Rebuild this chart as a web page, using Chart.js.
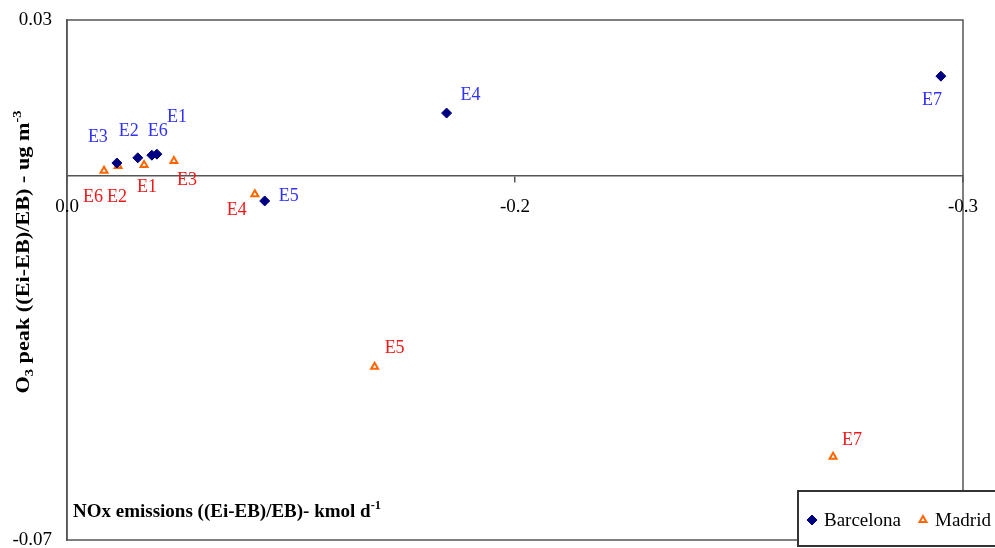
<!DOCTYPE html>
<html>
<head>
<meta charset="utf-8">
<script src="https://cdn.jsdelivr.net/npm/chart.js@4/dist/chart.umd.min.js"></script>
<style>
  html, body { margin: 0; padding: 0; background: #ffffff; }
  canvas { display: block; }
</style>
</head>
<body>
<canvas id="chart" width="995" height="548"></canvas>
<script>
// Emission scenarios E1..E7
const scenarios = ['E1', 'E2', 'E3', 'E4', 'E5', 'E6', 'E7'];

// Relative change in NOx emissions ((Ei-EB)/EB), kmol d-1
const barcelonaNOx = [-0.0301, -0.0237, -0.0167, -0.1271, -0.0662, -0.0284, -0.2926];
const madridNOx    = [-0.0258, -0.0171, -0.0358, -0.0629, -0.1030, -0.0124, -0.2565];

// Relative change in O3 peak ((Ei-EB)/EB), ug m-3
const barcelonaO3 = [0.0042, 0.0035, 0.0025, 0.0121, -0.0048, 0.0040, 0.0192];
const madridO3    = [0.0021, 0.0019, 0.0029, -0.0035, -0.0367, 0.0010, -0.0540];

// Axis ticks
const xTickValues = [0, -0.15, -0.3];
const xTickLabels = ['0.0', '-0.2', '-0.3'];
const yTickValues = [0.03, -0.07];
const yTickLabels = ['0.03', '-0.07'];

// Where each scenario name sits relative to its marker (px)
const barcelonaLabelShift = [[20, -37], [-9, -27], [-19, -26], [24, -18], [24, -5], [6, -24], [-9, 24]];
const madridLabelShift    = [[3, 22], [-1, 31], [13, 19], [-18, 16], [20, -19], [-11, 26], [19, -17]];

const SERIF = "'Liberation Serif', 'Times New Roman', serif";
const LINE = '#555555';

function toPoints(xs, ys) {
  return xs.map((x, i) => ({ x: x, y: ys[i] }));
}

// Draws a run of text pieces, some of them sub/superscript
function drawRich(ctx, parts, x, y, size, weight) {
  let cx = x;
  for (const p of parts) {
    const s = p.sub || p.sup ? size * 0.65 : size;
    ctx.font = weight + ' ' + s + 'px ' + SERIF;
    const dy = p.sub ? size * 0.22 : (p.sup ? -size * 0.42 : 0);
    ctx.fillText(p.t, cx, y + dy);
    cx += ctx.measureText(p.t).width;
  }
  return cx - x;
}
function richWidth(ctx, parts, size, weight) {
  let w = 0;
  for (const p of parts) {
    const s = p.sub || p.sup ? size * 0.65 : size;
    ctx.font = weight + ' ' + s + 'px ' + SERIF;
    w += ctx.measureText(p.t).width;
  }
  return w;
}

const yTitle = [{ t: 'O' }, { t: '3', sub: true }, { t: ' peak ((Ei-EB)/EB) - ug m' }, { t: '-3', sup: true }];
const xTitle = [{ t: 'NOx emissions ((Ei-EB)/EB)- kmol d' }, { t: '-1', sup: true }];

// Box around the plot area
const frame = {
  id: 'frame',
  beforeDatasetsDraw(chart) {
    const { ctx, chartArea: a } = chart;
    ctx.save();
    ctx.strokeStyle = LINE;
    ctx.lineWidth = 1.5;
    ctx.strokeRect(a.left, a.top, a.right - a.left, a.bottom - a.top);
    ctx.restore();
  }
};

// Scenario names next to each marker
const pointNames = {
  id: 'pointNames',
  afterDatasetsDraw(chart) {
    const ctx = chart.ctx;
    ctx.save();
    ctx.font = '18px ' + SERIF;
    ctx.textAlign = 'center';
    ctx.textBaseline = 'middle';
    chart.data.datasets.forEach((ds, di) => {
      const meta = chart.getDatasetMeta(di);
      ctx.fillStyle = ds.nameColor;
      meta.data.forEach((el, i) => {
        const sh = ds.nameShift[i];
        ctx.fillText(scenarios[i], el.x + sh[0], el.y + sh[1]);
      });
    });
    ctx.restore();
  }
};

// Axis titles
const axisTitles = {
  id: 'axisTitles',
  afterDraw(chart) {
    const { ctx, chartArea: a } = chart;
    ctx.save();
    ctx.fillStyle = '#000000';
    ctx.textBaseline = 'alphabetic';
    ctx.textAlign = 'left';
    drawRich(ctx, xTitle, a.left + 6, a.bottom - 23, 19, 'bold');

    // vertical title, slightly stretched along its length
    const w = richWidth(ctx, yTitle, 19, 'bold');
    const stretch = 283 / w;
    ctx.translate(29, 252);
    ctx.rotate(-Math.PI / 2);
    ctx.scale(stretch, 1);
    drawRich(ctx, yTitle, -w / 2, 0, 19, 'bold');
    ctx.restore();
  }
};

// Legend box in the lower right corner
const legendBox = {
  id: 'legendBox',
  afterDraw(chart) {
    const ctx = chart.ctx;
    const box = { x: 798, y: 491, w: 205, h: 55 };
    ctx.save();
    ctx.fillStyle = '#ffffff';
    ctx.fillRect(box.x, box.y, box.w, box.h);
    ctx.strokeStyle = '#333333';
    ctx.lineWidth = 2;
    ctx.strokeRect(box.x, box.y, box.w, box.h);
    const cy = 520;
    const spots = [{ mx: 812, tx: 824 }, { mx: 923, tx: 935 }];
    chart.data.datasets.forEach((ds, i) => {
      ctx.fillStyle = ds.backgroundColor;
      ctx.strokeStyle = ds.borderColor;
      ctx.lineWidth = ds.borderWidth;
      Chart.helpers.drawPoint(ctx, {
        pointStyle: ds.pointStyle, radius: ds.pointRadius, borderWidth: ds.borderWidth, rotation: 0
      }, spots[i].mx, cy);
      ctx.fillStyle = '#000000';
      ctx.font = '19px ' + SERIF;
      ctx.textAlign = 'left';
      ctx.textBaseline = 'middle';
      ctx.fillText(ds.label, spots[i].tx, cy + 1);
    });
    ctx.restore();
  }
};

new Chart(document.getElementById('chart').getContext('2d'), {
  type: 'scatter',
  data: {
    datasets: [
      {
        label: 'Barcelona',
        data: toPoints(barcelonaNOx, barcelonaO3),
        pointStyle: 'rectRot',
        pointRadius: 5,
        backgroundColor: '#000080',
        borderColor: '#000080',
        borderWidth: 1,
        nameColor: '#3030ff',
        nameShift: barcelonaLabelShift
      },
      {
        label: 'Madrid',
        data: toPoints(madridNOx, madridO3),
        pointStyle: 'triangle',
        pointRadius: 4,
        backgroundColor: '#ffffff',
        borderColor: '#ff6600',
        borderWidth: 2,
        nameColor: '#f01818',
        nameShift: madridLabelShift
      }
    ]
  },
  options: {
    responsive: false,
    animation: false,
    devicePixelRatio: 1,
    layout: { padding: { left: 0, top: 20, right: 32, bottom: 8 } },
    plugins: { legend: { display: false }, tooltip: { enabled: false } },
    scales: {
      x: {
        type: 'linear',
        reverse: true,
        min: -0.3,
        max: 0,
        position: { y: 0 },
        afterBuildTicks: s => { s.ticks = xTickValues.map(v => ({ value: v })); },
        afterFit: s => { s.height = 0; s.paddingLeft = 0; s.paddingRight = 0; },
        ticks: {
          callback: (v, i) => xTickLabels[i],
          font: { family: SERIF, size: 19 },
          color: '#000000',
          padding: 14,
          maxRotation: 0,
          autoSkip: false,
          z: 1
        },
        grid: { drawOnChartArea: false, drawTicks: true, tickLength: 6, color: LINE, lineWidth: 1.5 },
        border: { display: true, color: LINE, width: 1.5 }
      },
      y: {
        type: 'linear',
        min: -0.07,
        max: 0.03,
        afterBuildTicks: s => { s.ticks = yTickValues.map(v => ({ value: v })); },
        afterFit: s => { s.width = 67; s.paddingTop = 0; s.paddingBottom = 0; },
        ticks: {
          callback: (v, i) => yTickLabels[i],
          font: { family: SERIF, size: 19 },
          color: '#000000',
          padding: 15,
          autoSkip: false
        },
        grid: { display: false, drawTicks: false },
        border: { display: true, color: LINE, width: 1.5 }
      }
    }
  },
  plugins: [frame, pointNames, axisTitles, legendBox]
});
</script>
</body>
</html>
